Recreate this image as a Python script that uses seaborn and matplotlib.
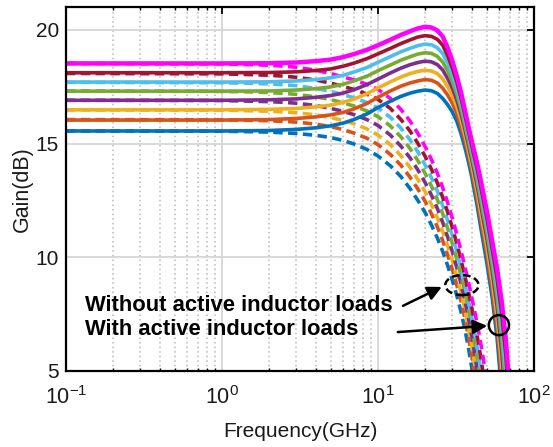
import numpy as np
import pandas as pd
import matplotlib
matplotlib.use("Agg")
import matplotlib.pyplot as plt
from matplotlib.patches import Ellipse
import seaborn as sns

# ---------------- data ----------------
colors = ["#0072BD", "#D95319", "#EDB120", "#7E2F8E",
          "#77AC30", "#4DBEEE", "#A2142F", "#FF00FF"]

# WITH active inductor loads (solid lines)
freq_solid = [0.1, 1, 2, 3, 4, 5, 6, 7, 8.5, 10, 12, 14, 16, 18, 20, 22, 24, 26,
              28, 30, 32, 34, 36, 38, 40, 43, 46, 50, 54, 58, 62, 66, 70]
gain_solid = [
    [15.55, 15.55, 15.57, 15.62, 15.69, 15.78, 15.90, 16.05, 16.30, 16.58, 16.86, 17.07,
     17.21, 17.30, 17.35, 17.32, 17.20, 16.98, 16.70, 16.38, 15.98, 15.45, 14.85, 14.20,
     13.50, 12.35, 11.15, 9.70, 8.20, 6.45, 4.10, 1.40, -1.50],
    [16.03, 16.03, 16.05, 16.10, 16.17, 16.26, 16.37, 16.52, 16.76, 17.03, 17.31, 17.52,
     17.66, 17.75, 17.81, 17.78, 17.66, 17.43, 17.12, 16.76, 16.32, 15.77, 15.15, 14.48,
     13.79, 12.67, 11.51, 10.09, 8.62, 6.95, 4.73, 2.17, -0.65],
    [16.48, 16.48, 16.50, 16.54, 16.61, 16.69, 16.81, 16.95, 17.19, 17.44, 17.71, 17.92,
     18.07, 18.17, 18.22, 18.19, 18.07, 17.84, 17.49, 17.10, 16.63, 16.05, 15.40, 14.72,
     14.03, 12.96, 11.83, 10.44, 8.99, 7.40, 5.32, 2.91, 0.15],
    [16.90, 16.90, 16.92, 16.96, 17.03, 17.11, 17.22, 17.36, 17.59, 17.83, 18.10, 18.31,
     18.46, 18.56, 18.62, 18.59, 18.47, 18.23, 17.85, 17.42, 16.91, 16.31, 15.64, 14.94,
     14.26, 13.22, 12.13, 10.77, 9.35, 7.84, 5.89, 3.62, 0.94],
    [17.30, 17.30, 17.31, 17.35, 17.41, 17.49, 17.61, 17.75, 17.96, 18.20, 18.45, 18.66,
     18.81, 18.93, 18.99, 18.96, 18.83, 18.58, 18.18, 17.71, 17.17, 16.54, 15.84, 15.14,
     14.45, 13.46, 12.40, 11.06, 9.68, 8.24, 6.44, 4.31, 1.69],
    [17.70, 17.70, 17.71, 17.75, 17.81, 17.89, 18.00, 18.14, 18.34, 18.57, 18.82, 19.03,
     19.18, 19.30, 19.37, 19.34, 19.21, 18.95, 18.52, 18.01, 17.43, 16.78, 16.06, 15.34,
     14.66, 13.70, 12.68, 11.37, 10.02, 8.66, 6.99, 5.00, 2.46],
    [18.11, 18.11, 18.12, 18.15, 18.21, 18.28, 18.40, 18.53, 18.73, 18.94, 19.18, 19.39,
     19.55, 19.68, 19.74, 19.71, 19.58, 19.32, 18.85, 18.31, 17.70, 17.02, 16.27, 15.54,
     14.86, 13.95, 12.96, 11.68, 10.35, 9.07, 7.54, 5.70, 3.22],
    [18.52, 18.52, 18.53, 18.56, 18.62, 18.69, 18.80, 18.93, 19.12, 19.32, 19.56, 19.77,
     19.93, 20.06, 20.13, 20.10, 19.97, 19.70, 19.20, 18.62, 17.97, 17.27, 16.50, 15.75,
     15.08, 14.20, 13.25, 12.00, 10.70, 9.50, 8.10, 6.40, 4.00],
]

# WITHOUT active inductor loads (dashed lines)
freq_dashed = [0.1, 1, 1.5, 2, 2.5, 3, 4, 5, 6, 7, 8.5, 10, 12, 14, 16, 18, 20, 22,
               24, 26, 28, 30, 32, 34, 36, 38, 40, 42, 44, 46, 48, 52]
gain_dashed = [
    [15.55, 15.54, 15.52, 15.50, 15.47, 15.44, 15.36, 15.26, 15.13, 14.98, 14.74, 14.45,
     14.02, 13.55, 13.03, 12.50, 11.98, 11.42, 10.85, 10.25, 9.62, 8.98, 8.32, 7.62,
     6.86, 6.02, 5.10, 4.10, 3.00, 1.80, 0.50, -2.50],
    [16.05, 16.04, 16.02, 16.00, 15.97, 15.94, 15.85, 15.74, 15.61, 15.46, 15.23, 14.95,
     14.52, 14.05, 13.53, 13.00, 12.47, 11.91, 11.34, 10.73, 10.09, 9.45, 8.78, 8.08,
     7.33, 6.51, 5.62, 4.67, 3.62, 2.49, 1.26, -1.56],
    [16.48, 16.47, 16.44, 16.42, 16.39, 16.35, 16.26, 16.14, 16.01, 15.87, 15.64, 15.37,
     14.95, 14.47, 13.96, 13.42, 12.89, 12.32, 11.74, 11.13, 10.49, 9.84, 9.17, 8.47,
     7.72, 6.92, 6.07, 5.15, 4.17, 3.09, 1.94, -0.71],
    [16.90, 16.89, 16.86, 16.84, 16.81, 16.77, 16.67, 16.54, 16.41, 16.27, 16.05, 15.79,
     15.37, 14.89, 14.38, 13.84, 13.30, 12.73, 12.15, 11.53, 10.88, 10.23, 9.55, 8.85,
     8.11, 7.33, 6.51, 5.64, 4.71, 3.70, 2.62, 0.15],
    [17.31, 17.29, 17.27, 17.24, 17.20, 17.16, 17.05, 16.93, 16.78, 16.65, 16.43, 16.18,
     15.77, 15.30, 14.79, 14.25, 13.70, 13.13, 12.54, 11.91, 11.26, 10.59, 9.91, 9.21,
     8.49, 7.73, 6.93, 6.10, 5.23, 4.29, 3.27, 0.99],
    [17.69, 17.67, 17.65, 17.62, 17.58, 17.54, 17.42, 17.29, 17.14, 17.01, 16.80, 16.56,
     16.15, 15.68, 15.17, 14.63, 14.07, 13.50, 12.91, 12.27, 11.61, 10.94, 10.25, 9.55,
     8.84, 8.10, 7.33, 6.55, 5.73, 4.86, 3.91, 1.81],
    [18.08, 18.06, 18.03, 18.00, 17.96, 17.91, 17.79, 17.65, 17.50, 17.38, 17.17, 16.94,
     16.54, 16.06, 15.56, 15.01, 14.45, 13.87, 13.27, 12.63, 11.97, 11.29, 10.60, 9.90,
     9.19, 8.47, 7.74, 6.99, 6.24, 5.42, 4.55, 2.62],
    [18.52, 18.50, 18.47, 18.44, 18.40, 18.35, 18.22, 18.07, 17.92, 17.80, 17.60, 17.38,
     16.98, 16.50, 16.00, 15.45, 14.88, 14.30, 13.70, 13.05, 12.38, 11.70, 11.00, 10.30,
     9.60, 8.90, 8.20, 7.50, 6.80, 6.05, 5.25, 3.50],
]

xticks = [0.1, 1, 10, 100]
xtick_labels = [r"$\mathregular{10^{-1}}$", r"$\mathregular{10^{0}}$",
                r"$\mathregular{10^{1}}$", r"$\mathregular{10^{2}}$"]
yticks = [5, 10, 15, 20]
label_without = "Without active inductor loads"
label_with = "With active inductor loads"

# ---------------- style ----------------
sns.set_theme(style="white")
plt.rcParams["font.family"] = ["Liberation Sans", "DejaVu Sans"]
plt.rcParams["mathtext.fontset"] = "custom"
plt.rcParams["mathtext.rm"] = "Liberation Sans"
plt.rcParams["mathtext.it"] = "Liberation Sans:italic"
plt.rcParams["mathtext.bf"] = "Liberation Sans:bold"

fig = plt.figure(figsize=(5.53, 4.47), dpi=100)
ax = fig.add_axes([66 / 553, 1 - 371 / 447, (534 - 66) / 553, (371 - 7) / 447])

# dashed first (below), then solid
for k in range(8):
    sns.lineplot(x=freq_dashed, y=gain_dashed[k], ax=ax, color=colors[k],
                 linewidth=2.6, linestyle=(0, (2.6, 1.5)), estimator=None,
                 sort=False, zorder=3)
for k in range(8):
    sns.lineplot(x=freq_solid, y=gain_solid[k], ax=ax, color=colors[k],
                 linewidth=3.2 if k == 7 else 2.6, estimator=None,
                 sort=False, zorder=4)

ax.set_xscale("log")
ax.set_xlim(0.1, 100)
ax.set_ylim(5, 21)
ax.set_xticks(xticks)
ax.set_xticklabels(xtick_labels)
ax.set_yticks(yticks)
ax.set_yticklabels([str(v) for v in yticks])

ax.grid(True, which="major", axis="both", color="#d6d6d6", linewidth=1.3,
        linestyle="-", zorder=0)
ax.grid(True, which="minor", axis="x", color="#b8b8b8", linewidth=1.1,
        linestyle=(0, (1, 2)), zorder=0)
ax.set_axisbelow(True)

for s in ax.spines.values():
    s.set_linewidth(1.6)
    s.set_color("black")
    s.set_zorder(6)

ax.tick_params(axis="both", which="major", direction="in", length=5, width=1.3,
               top=True, right=True, color="black", labelcolor="#1a1a1a")
ax.tick_params(axis="x", which="minor", direction="in", length=2.5, width=1.0,
               top=True, bottom=True, color="black")
ax.tick_params(axis="y", which="minor", left=False, right=False)
ax.tick_params(axis="y", which="major", labelsize=15, pad=5)
ax.tick_params(axis="x", which="major", labelsize=15.5, pad=11)

ax.set_xlabel("Frequency(GHz)", fontsize=15, color="#1a1a1a", labelpad=9)
ax.set_ylabel("Gain(dB)", fontsize=15.5, color="#1a1a1a", labelpad=2)

# annotations
ax.text(0.041, 0.181, label_without, transform=ax.transAxes, fontsize=15.8,
        fontweight="bold", ha="left", va="center", color="black", zorder=7)
ax.text(0.041, 0.113, label_with, transform=ax.transAxes, fontsize=15.8,
        fontweight="bold", ha="left", va="center", color="black", zorder=7)

ax.add_patch(Ellipse((0.846, 0.236), 0.071, 0.055, transform=ax.transAxes,
                     fill=False, edgecolor="black", linewidth=1.8,
                     linestyle=(0, (3, 1.5)), zorder=7))
ax.add_patch(Ellipse((0.925, 0.126), 0.043, 0.055, transform=ax.transAxes,
                     fill=False, edgecolor="black", linewidth=1.8, zorder=7))
ax.annotate("", xy=(0.803, 0.231), xytext=(0.720, 0.179), xycoords="axes fraction",
            textcoords="axes fraction",
            arrowprops=dict(arrowstyle="-|>,head_length=0.7,head_width=0.35",
                            color="black", lw=1.8, shrinkA=0, shrinkB=0), zorder=7)
ax.annotate("", xy=(0.900, 0.124), xytext=(0.709, 0.107), xycoords="axes fraction",
            textcoords="axes fraction",
            arrowprops=dict(arrowstyle="-|>,head_length=0.7,head_width=0.35",
                            color="black", lw=1.8, shrinkA=0, shrinkB=0), zorder=7)

fig.savefig("out.png", dpi=100)
